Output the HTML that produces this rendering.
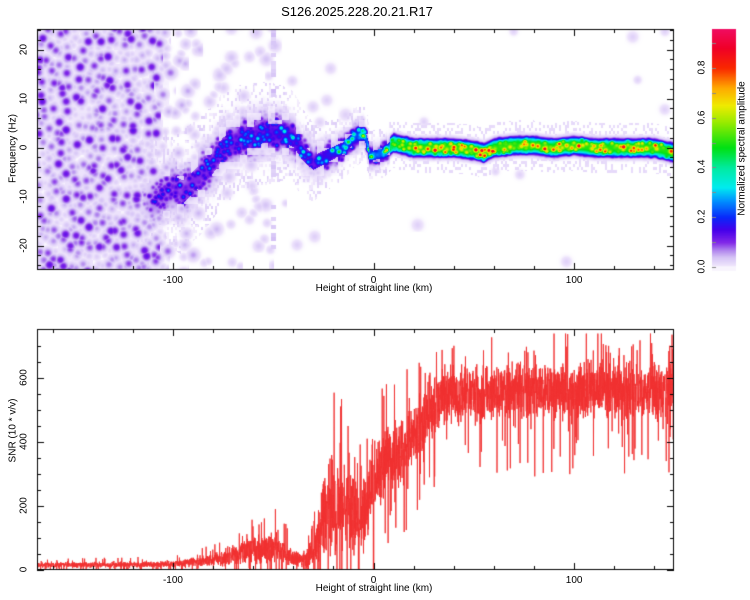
<!DOCTYPE html>
<html><head><meta charset="utf-8">
<style>
html,body{margin:0;padding:0;background:#fff;}
#wrap{position:relative;width:750px;height:600px;font-family:"Liberation Sans",sans-serif;color:#000;overflow:hidden;}
canvas{position:absolute;left:0;top:0;}
.t{position:absolute;font-size:10px;white-space:nowrap;}
</style></head><body>
<div id="wrap">
<canvas id="cv" width="750" height="600"></canvas>
<div class="t" style="left:0;width:714px;top:4px;text-align:center;font-size:13px;">S126.2025.228.20.21.R17</div>
<div class="t" style="left:256px;width:236px;top:283px;text-align:center;">Height of straight line (km)</div>
<div class="t" style="left:256px;width:236px;top:583px;text-align:center;">Height of straight line (km)</div>
<div class="t" style="left:-37px;top:143px;width:100px;text-align:center;transform:rotate(-90deg);">Frequency (Hz)</div>
<div class="t" style="left:-37px;top:425px;width:100px;text-align:center;transform:rotate(-90deg);">SNR (10 * v/v)</div>
<div class="t" style="left:667px;top:143px;width:150px;text-align:center;transform:rotate(-90deg);">Normalized spectral amplitude</div>
<div id="labels"></div>
</div>
<script>
// ---- data ----
var ridgeKm  = [-170,-118,-110,-100,-95,-90,-85,-80,-75,-70,-65,-60,-55,-50,-45,-40,-35,-30,-25,-20,-15,-10,-5,-3,-2,0,5,10,15,20,30,40,50,55,60,70,80,90,100,110,140,150];
var ridgeHz  = [-10,-11,-11,-8,-9,-7,-5,-3,0,1,2,2,3,3,3,2,-1,-3,-2,-1,0,2,3,1,-1.5,-1.5,-1,1,0.5,0,0,0,-0.5,-1,0,0.5,0.5,0,0.5,0,0,-1];
var ridgeAmp = [0,0,0.18,0.22,0.23,0.24,0.25,0.26,0.27,0.28,0.3,0.3,0.32,0.34,0.35,0.35,0.32,0.3,0.38,0.42,0.46,0.5,0.55,0.55,0.55,0.55,0.6,0.68,0.72,0.78,0.8,0.8,0.8,0.8,0.8,0.8,0.8,0.8,0.8,0.8,0.8,0.8];
var ridgeWidth=[4,4,4,4,4,3.8,3.8,3.6,3.6,3.5,3.5,3.5,3.3,3.2,3,3,2.8,2.5,2.3,2.1,2,1.9,1.8,1.8,1.6,1.6,1.6,1.6,1.6,1.6,1.6,1.6,1.6,1.6,1.6,1.6,1.6,1.6,1.6,1.6,1.6,1.6];
var noiseKm  = [-170,-120,-110,-100,-90,-80,-60,-50,-40,-20,0,150];
var noiseLevel=[1,1,0.85,0.4,0.25,0.15,0.1,0.12,0.05,0.02,0.01,0.01];
var snrKm    = [-170,-100,-90,-80,-70,-60,-50,-45,-40,-35,-30,-25,-20,-15,-10,-5,0,5,10,15,20,25,30,40,50,60,80,100,120,150];
var snrMean  = [15,18,25,30,45,60,70,60,35,30,50,170,210,200,190,180,290,330,360,370,420,470,520,550,550,560,560,560,560,560];
var snrSpread= [10,12,18,25,35,55,65,55,35,35,60,170,190,170,170,170,150,130,130,120,120,120,110,110,110,110,110,110,110,110];
var xTicks=[-100,0,100], snrTicks=[0,200,400,600], hzTicks=[-20,-10,0,10,20], cbTicks=[0,0.2,0.4,0.6,0.8];

// ---- geometry ----
var P1={l:37,r:674,t:29,b:270}, P2={l:37,r:674,t:329,b:570};
var X0=-167.8,X1=149.8;
function xs(k,P){return P.l+(k-X0)/(X1-X0)*(P.r-P.l);}
function hzY(h){return 147.5-h*4.9;}
function snrY(v){return 570-v*0.3195;}
function cbY(v){return 267-v*249;}
function interp(ax,ay,x){if(x<=ax[0])return ay[0];for(var i=1;i<ax.length;i++){if(x<=ax[i]){var f=(x-ax[i-1])/(ax[i]-ax[i-1]);return ay[i-1]+f*(ay[i]-ay[i-1]);}}return ay[ay.length-1];}
function hash(a,b){var h=(a*374761393+b*668265263)|0;h=(h^(h>>>13))*1274126177|0;h=h^(h>>>16);return (h>>>0)/4294967296;}

var stops=[[0,255,255,255],[0.008,238,228,252],[0.04,214,196,246],[0.07,175,130,238],[0.1,130,40,232],[0.15,70,0,235],[0.2,10,40,250],[0.27,0,150,255],[0.32,0,235,240],[0.4,0,235,160],[0.48,0,225,20],[0.58,150,235,0],[0.65,240,235,0],[0.72,255,170,0],[0.8,250,40,0],[0.88,240,0,40],[1,240,20,130]];
function cmap(v){if(v<=0)return [255,255,255];if(v>=1)v=1;for(var i=1;i<stops.length;i++){if(v<=stops[i][0]){var a=stops[i-1],b=stops[i],f=(v-a[0])/(b[0]-a[0]);return [a[1]+f*(b[1]-a[1]),a[2]+f*(b[2]-a[2]),a[3]+f*(b[3]-a[3])];}}return [240,20,130];}

var cv=document.getElementById('cv'),ctx=cv.getContext('2d');
// ---- spectrogram ----
(function(){
 var W=P1.r-P1.l,H=P1.b-P1.t,img=ctx.createImageData(W,H),C=7,Cr=4;
 for(var px=0;px<W;px++){
  var km=X0+(px+0.5)/W*(X1-X0);
  var rf=interp(ridgeKm,ridgeHz,km),ra=interp(ridgeKm,ridgeAmp,km),rw=interp(ridgeKm,ridgeWidth,km),nl=interp(noiseKm,noiseLevel,km);
  var ry=hzY(rf)-P1.t;
  for(var py=0;py<H;py++){
   var X=px,Y=py,sp=0,bm=0;
   var gx=Math.floor(X/C),gy=Math.floor(Y/C);
   for(var dx=-1;dx<=1;dx++)for(var dy=-1;dy<=1;dy++){
    var cx=gx+dx,cy=gy+dy,h1=hash(cx,cy),h2=hash(cy+999,cx),h3=hash(cx+77,cy+31);
    var bx=(cx+h1)*C,by=(cy+h2)*C,d2=(X-bx)*(X-bx)+(Y-by)*(Y-by);
    var e=Math.exp(-d2/(8+16*h3));
    var pres=hash(cx*3+1,cy*7+2);
    if(pres<nl) sp=Math.max(sp,e*(0.025+0.11*h3*h3*Math.min(1,nl*1.3)));
   }
   if(nl>0.5) sp=Math.max(sp,0.012*hash(gx+400,gy)*(nl));
   var qx=Math.floor(X/Cr),qy=Math.floor(Y/Cr);
   for(var dx=-1;dx<=1;dx++)for(var dy=-1;dy<=1;dy++){
    var cx=qx+dx,cy=qy+dy,h1=hash(cx+3,cy+8),h2=hash(cy+55,cx+1),h3=hash(cx+11,cy+2);
    var bx=(cx+h1)*Cr,by=(cy+h2)*Cr,d2=(X-bx)*(X-bx)+(Y-by)*(Y-by);
    bm=Math.max(bm,Math.exp(-d2/5)*h3*h3);
   }
   if(Math.abs(km+50)<1.2 && hash(py>>2,5)<0.35) sp=Math.max(sp,0.02+0.03*hash(py>>2,9));
   var d=Math.abs((py-ry)/4.9)/rw;
   var rv=0;
   if(ra>0){
    rv=ra*Math.exp(-Math.pow(d,ra>0.65?3:2));
    var mod=ra>0.65?(0.62+0.6*bm):(0.4+0.9*bm);
    rv*=mod;
    if(d>0.7 && d<3.2){var w=hash(Math.floor(X/2),Math.floor(Y/3)+300);if(w<0.3)rv=Math.max(rv,0.015+0.05*w*(ra>0.65?0.3:1));}
    if(ra<0.65 && d>0.6) rv*= (hash(gx,gy+50)<0.6?1:0.3);
   }
   var v=Math.max(rv,sp);
   var c=cmap(v),o=(py*W+px)*4;
   img.data[o]=c[0];img.data[o+1]=c[1];img.data[o+2]=c[2];img.data[o+3]=255;
  }
 }
 ctx.putImageData(img,P1.l,P1.t);
})();
// ---- colorbar ----
for(var y=29;y<=270;y++){var v=(267-y)/249;var c=cmap(Math.max(v,0.003));ctx.fillStyle='rgb('+(c[0]|0)+','+(c[1]|0)+','+(c[2]|0)+')';ctx.fillRect(712,y,24,1);}

// ---- SNR line ----
ctx.save();ctx.beginPath();ctx.rect(P2.l,P2.t,P2.r-P2.l,P2.b-P2.t);ctx.clip();
ctx.strokeStyle='#f03030';ctx.lineWidth=0.9;ctx.beginPath();
var N=4200;
for(var i=0;i<=N;i++){
 var km=X0+i/N*(X1-X0),m=interp(snrKm,snrMean,km),s=interp(snrKm,snrSpread,km);
 var r=hash(i,17)-0.5,r2=hash(i,91);
 var val=m+s*1.5*r*(0.5+0.8*r2);
 if(r2>0.9) val+= (hash(i,5)>0.45?(km>20?0.75:1.1):-1.5)*s;
 val=Math.max(0,Math.min(740,val));
 var X=xs(km,P2),Y=snrY(val);
 if(i==0)ctx.moveTo(X,Y);else ctx.lineTo(X,Y);
}
ctx.stroke();ctx.restore();

// ---- axes ----
ctx.strokeStyle='#000';ctx.lineWidth=1;
function frame(P){ctx.strokeRect(P.l+0.5,P.t+0.5,P.r-P.l-1,P.b-P.t-1);
 ctx.beginPath();
 for(var k=-160;k<=140;k+=20){var x=Math.round(xs(k,P))+0.5,L=(k%100==0)?7:4;ctx.moveTo(x,P.b);ctx.lineTo(x,P.b-L);ctx.moveTo(x,P.t);ctx.lineTo(x,P.t+L);}
 ctx.stroke();}
frame(P1);frame(P2);
ctx.beginPath();
for(var h=-24;h<=24;h+=2){var y=Math.round(hzY(h))+0.5,L=(h%10==0)?7:4;ctx.moveTo(P1.l,y);ctx.lineTo(P1.l+L,y);ctx.moveTo(P1.r,y);ctx.lineTo(P1.r-L,y);}
for(var s=0;s<=740;s+=50){var y=Math.round(snrY(s))+0.5,L=(s%200==0)?7:4;ctx.moveTo(P2.l,y);ctx.lineTo(P2.l+L,y);ctx.moveTo(P2.r,y);ctx.lineTo(P2.r-L,y);}
ctx.stroke();
ctx.strokeStyle='#888';ctx.beginPath();
for(var v=0;v<=0.95;v+=0.1){var y=Math.round(cbY(v))+0.5;ctx.moveTo(712,y);ctx.lineTo(716,y);}
ctx.stroke();

// ---- labels ----
var lab=document.getElementById('labels');
function addLabel(txt,x,y,rot,name){var d=document.createElement('div');d.className='t';d.textContent=txt;
 
 
 d.style.width='40px';d.style.textAlign='center';d.style.left=(x-20)+'px';d.style.top=(y-6)+'px';if(rot)d.style.transform='rotate(-90deg)';lab.appendChild(d);}
xTicks.forEach(function(k){addLabel(String(k),xs(k,P1),281,false,'top-x-tick-label');addLabel(String(k),xs(k,P2),581,false,'bottom-x-tick-label');});
hzTicks.forEach(function(h){addLabel(String(h),24,hzY(h),true,'y-tick-label-hz');});
snrTicks.forEach(function(s){addLabel(String(s),24,snrY(s),true,'y-tick-label-snr');});
cbTicks.forEach(function(v){addLabel(v.toFixed(1),702,cbY(v),true,'colorbar-tick-label');});
</script>
</body></html>
